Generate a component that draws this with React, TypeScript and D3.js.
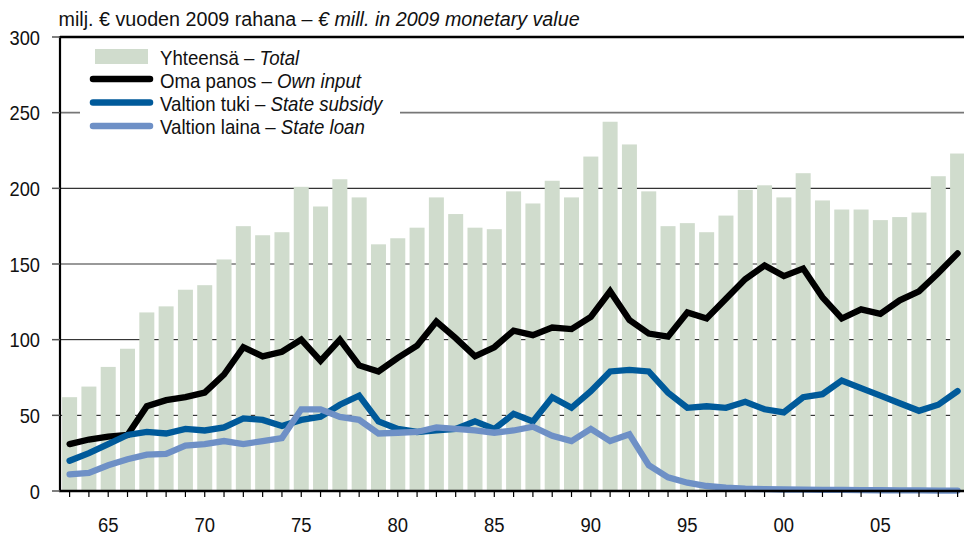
import React from "react";
import * as d3 from "d3";

const years: number[] = d3.range(1963, 2010);
const total: number[] = [62, 69, 82, 94, 118, 122, 133, 136, 153, 175, 169, 171, 201, 188, 206, 194, 163, 167, 174, 194, 183, 174, 173, 198, 190, 205, 194, 221, 244, 229, 198, 175, 177, 171, 182, 199, 202, 194, 210, 192, 186, 186, 179, 181, 184, 208, 223];
const ownInput: number[] = [31, 34, 36, 37, 56, 60, 62, 65, 77, 95, 89, 92, 100, 86, 100, 83, 79, 88, 96, 112, 101, 89, 95, 106, 103, 108, 107, 115, 132, 113, 104, 102, 118, 114, 127, 140, 149, 142, 147, 128, 114, 120, 117, 126, 132, 144, 157];
const stateSubsidy: number[] = [20, 25, 31, 37, 39, 38, 41, 40, 42, 48, 47, 43, 47, 49, 57, 63, 46, 41, 39, 40, 41, 46, 41, 51, 46, 62, 55, 66, 79, 80, 79, 65, 55, 56, 55, 59, 54, 52, 62, 64, 73, 68, 63, 58, 53, 57, 66];
const stateLoan: number[] = [11, 12, 17, 21, 24, 24.5, 30, 31, 33, 31, 33, 35, 54, 54, 49, 47, 38, 38.5, 39, 42, 41, 40, 38.5, 40, 42.5, 36.5, 33, 41, 33, 37.5, 17, 9, 5.5, 3.3, 2.2, 1.5, 1.2, 1, 0.9, 0.8, 0.7, 0.6, 0.5, 0.4, 0.4, 0.3, 0.3];
const yTicks: number[] = [0, 50, 100, 150, 200, 250, 300];
const xLabelYears: number[] = [1965, 1970, 1975, 1980, 1985, 1990, 1995, 2000, 2005];
const legendItems: { label: string; en: string }[] = [
  { label: "Yhteensä – ", en: "Total" },
  { label: "Oma panos – ", en: "Own input" },
  { label: "Valtion tuki – ", en: "State subsidy" },
  { label: "Valtion laina – ", en: "State loan" },
];

const W = 964;
const H = 536;
const FONT = "'Liberation Sans', Arial, sans-serif";
const BAR = "#d0dccd";
const BLACK = "#000000";
const BLUE = "#005a9a";
const LIGHT = "#6e90c6";

function NText(props: { x: number; y: number; size: number; sx: number; anchor?: string; dy?: string; children: React.ReactNode }) {
  return (
    <text
      transform={`translate(${props.x},${props.y}) scale(${props.sx},1)`}
      fontSize={props.size}
      textAnchor={props.anchor || "start"}
      dy={props.dy}
      fill="#111"
    >
      {props.children}
    </text>
  );
}

export default function App() {
  const x = d3.scaleLinear().domain([1963, 2009]).range([69.6, 957.6]);
  const y = d3.scaleLinear().domain([0, 300]).range([491, 37]);
  const left = 60;
  const right = W;
  const barW = 15;

  const line = d3
    .line<number>()
    .x((_, i) => x(years[i]))
    .y((d) => y(d));

  const gridStyle = (v: number) => {
    if (v === 300) return { stroke: "#000", width: 2.5 };
    if (v === 250 || v === 150) return { stroke: "#777", width: 1.6 };
    if (v === 200) return { stroke: "#333", width: 1.2 };
    return { stroke: "#111", width: 1 };
  };

  const series = [
    { data: ownInput, color: BLACK },
    { data: stateSubsidy, color: BLUE },
    { data: stateLoan, color: LIGHT },
  ];

  return (
    <svg
      width={W}
      height={H}
      style={{ position: "absolute", left: 0, top: 0, background: "#fff" }}
      fontFamily={FONT}
    >
      {yTicks
        .filter((v) => v > 0)
        .map((v) => {
          const s = gridStyle(v);
          return (
            <line key={v} x1={left} x2={right} y1={y(v)} y2={y(v)} stroke={s.stroke} strokeWidth={s.width} />
          );
        })}
      <rect x={80} y={40} width={320} height={96} fill="#fff" />
      {total.map((v, i) => (
        <rect key={years[i]} x={x(years[i]) - barW / 2} y={y(v)} width={barW} height={y(0) - y(v)} fill={BAR} />
      ))}
      {series.map((s, k) => (
        <path
          key={k}
          d={line(s.data) || ""}
          fill="none"
          stroke={s.color}
          strokeWidth={6.3}
          strokeLinejoin="miter"
          strokeLinecap="round"
        />
      ))}
      <line x1={left} x2={left} y1={y(300) - 1} y2={y(0) + 1} stroke="#000" strokeWidth={2.2} />
      <line x1={left - 1} x2={right} y1={y(0)} y2={y(0)} stroke="#000" strokeWidth={2.5} />
      {yTicks.map((v) => (
        <g key={v}>
          <line x1={52} x2={left} y1={y(v)} y2={y(v)} stroke="#555" strokeWidth={1.5} />
          <NText x={40} y={y(v)} dy="0.36em" anchor="end" size={21} sx={0.87}>
            {v}
          </NText>
        </g>
      ))}
      {years.map((yr) => (
        <line key={yr} x1={x(yr)} x2={x(yr)} y1={y(0)} y2={y(0) + 6} stroke="#000" strokeWidth={1.2} />
      ))}
      {xLabelYears.map((yr) => (
        <NText key={yr} x={x(yr)} y={532} anchor="middle" size={21} sx={0.88}>
          {String(yr % 100).padStart(2, "0")}
        </NText>
      ))}
      <NText x={58.5} y={26} size={20} sx={0.985}>
        milj. € vuoden 2009 rahana – <tspan fontStyle="italic">€ mill. in 2009 monetary value</tspan>
      </NText>
      <rect x={95} y={49} width={53} height={15} fill={BAR} />
      {[BLACK, BLUE, LIGHT].map((c, i) => (
        <line key={c} x1={93} x2={150} y1={79 + i * 23.5} y2={79 + i * 23.5} stroke={c} strokeWidth={6.5} strokeLinecap="round" />
      ))}
      {legendItems.map((it, i) => (
        <NText key={it.en} x={160} y={64.5 + i * 23.3} size={20.5} sx={0.91}>
          {it.label}
          <tspan fontStyle="italic">{it.en}</tspan>
        </NText>
      ))}
    </svg>
  );
}
